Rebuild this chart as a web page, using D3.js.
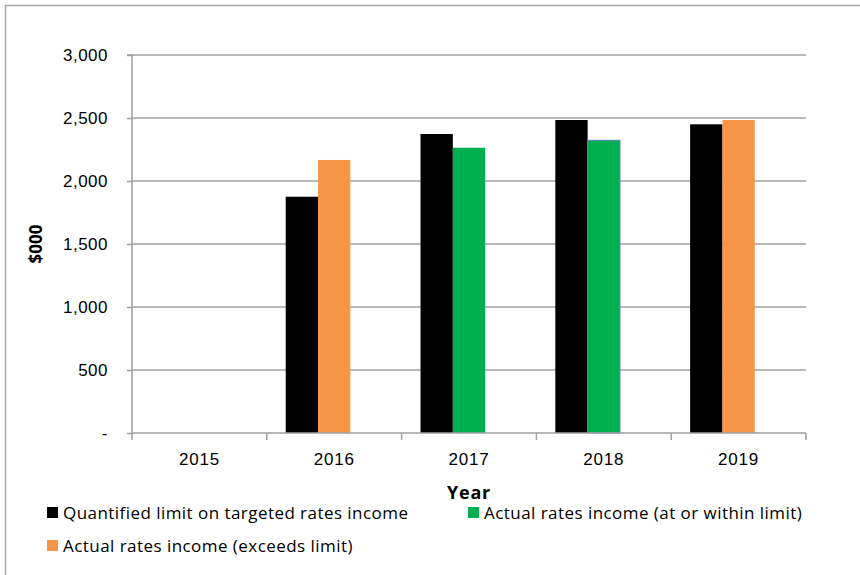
<!DOCTYPE html>
<html>
<head>
<meta charset="utf-8">
<script src="https://cdn.jsdelivr.net/npm/d3@7"></script>
<style>
body { margin: 0; background: #fff; }
svg { font-family: "Open Sans", Lato, sans-serif; }
</style>
</head>
<body>
<svg width="860" height="575"></svg>
<script>
const years = ["2015", "2016", "2017", "2018", "2019"]
const limitValues = [null, 1875, 2373, 2484, 2450]
const withinValues = [null, null, 2264, 2323, null]
const exceedsValues = [null, 2167, null, null, 2484]
const yTicks = [0, 500, 1000, 1500, 2000, 2500, 3000]
const seriesNames = [
    "Quantified limit on targeted rates income",
    "Actual rates income (at or within limit)",
    "Actual rates income (exceeds limit)"
]
const colors = ["#000000", "#00b050", "#f79646"]

const svg = d3.select("svg")

// outer chart frame
svg.append("rect")
    .attr("x", 5.5).attr("y", 5.5)
    .attr("width", 900).attr("height", 600)
    .attr("fill", "none").attr("stroke", "#a6a6a6").attr("stroke-width", 1.5)

const plotLeft = 132, plotRight = 806, plotTop = 55, plotBottom = 433

const x = d3.scaleBand().domain(years).range([plotLeft, plotRight])
const slot = d3.scaleBand().domain(["a", "b", "c"]).range([0, x.bandwidth()]).paddingOuter(0.585)
const y = d3.scaleLinear().domain([0, 3000]).range([plotBottom, plotTop])

// gridlines
svg.append("g")
    .selectAll("line")
    .data(yTicks.filter(d => d > 0))
    .enter()
    .append("line")
    .attr("x1", plotLeft).attr("x2", plotRight)
    .attr("y1", d => y(d)).attr("y2", d => y(d))
    .attr("stroke", "#a0a0a0").attr("stroke-width", 1.5)

// bars: limit in first slot, actual (within or exceeds) in second slot
const bars = []
years.forEach((yr, i) => {
    if (limitValues[i] != null) bars.push({year: yr, slot: "a", value: limitValues[i], s: 0})
    if (withinValues[i] != null) bars.push({year: yr, slot: "b", value: withinValues[i], s: 1})
    if (exceedsValues[i] != null) bars.push({year: yr, slot: "b", value: exceedsValues[i], s: 2})
})

svg.append("g")
    .selectAll("rect")
    .data(bars)
    .enter()
    .append("rect")
    .attr("x", d => x(d.year) + slot(d.slot))
    .attr("width", slot.bandwidth())
    .attr("y", d => y(d.value))
    .attr("height", d => plotBottom - y(d.value))
    .attr("fill", d => colors[d.s])
    .attr("stroke", d => d.year === "2018" && d.s === 1 ? "#5b7fc0" : "none")
    .attr("stroke-width", 1)

// y axis
const yAxis = svg.append("g")
    .attr("transform", `translate(${plotLeft},0)`)
    .call(d3.axisLeft(y).tickValues(yTicks).tickSize(5).tickPadding(19)
        .tickFormat(d => d === 0 ? "-" : d3.format(",")(d)))
yAxis.select(".domain").attr("stroke", "#a0a0a0").attr("stroke-width", 1.5)
    .attr("d", `M-5,${plotTop}H0V${plotBottom}`)
yAxis.selectAll(".tick line").attr("stroke", "#a0a0a0").attr("stroke-width", 1.5)
yAxis.selectAll("text").attr("font-size", 17).attr("letter-spacing", 0.5).attr("fill", "#000")

// x axis
const xAxis = svg.append("g")
    .attr("transform", `translate(0,${plotBottom})`)
    .call(d3.axisBottom(x).tickSize(0).tickPadding(20))
xAxis.select(".domain").attr("stroke", "#a0a0a0").attr("stroke-width", 1.5)
    .attr("d", `M${plotLeft},0H${plotRight}`)
xAxis.selectAll("text").attr("font-size", 17).attr("letter-spacing", 0.8).attr("fill", "#000")

// category boundary ticks
svg.append("g")
    .selectAll("line")
    .data(years.map(d => x(d)).concat([plotRight]))
    .enter()
    .append("line")
    .attr("x1", d => d).attr("x2", d => d)
    .attr("y1", plotBottom).attr("y2", plotBottom + 7)
    .attr("stroke", "#a0a0a0").attr("stroke-width", 1.5)

// axis titles
svg.append("text")
    .attr("x", (plotLeft + plotRight) / 2).attr("y", 499)
    .attr("text-anchor", "middle")
    .attr("font-size", 18).attr("font-weight", "bold").attr("letter-spacing", 0.8)
    .text("Year")

svg.append("text")
    .attr("transform", `translate(42,${(plotTop + plotBottom) / 2}) rotate(-90)`)
    .attr("text-anchor", "middle")
    .attr("font-size", 17).attr("font-weight", "bold")
    .text("$000")

// legend
const legendPos = [[47, 507], [468, 507], [47, 540]]
const legend = svg.append("g")
    .selectAll("g")
    .data(seriesNames)
    .enter()
    .append("g")
    .attr("transform", (d, i) => `translate(${legendPos[i][0]},${legendPos[i][1]})`)
legend.append("rect")
    .attr("width", 11).attr("height", 11)
    .attr("fill", (d, i) => colors[i])
legend.append("text")
    .attr("x", 16).attr("y", 12)
    .attr("font-size", 17)
    .attr("letter-spacing", 0.45)
    .text(d => d)
</script>
</body>
</html>
